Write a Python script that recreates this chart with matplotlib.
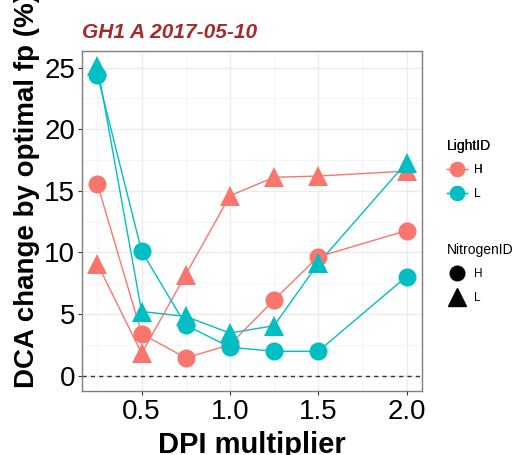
import matplotlib
matplotlib.use("Agg")
import matplotlib.pyplot as plt
from matplotlib.lines import Line2D
import numpy as np

plt.rcParams['font.family'] = ['Liberation Sans', 'DejaVu Sans']

dpi_mult = [0.25, 0.5, 0.75, 1.0, 1.25, 1.5, 2.0]
# LightID H, NitrogenID H (red circles)
hh = [15.55, 3.4, 1.43, 2.5, 6.15, 9.64, 11.77]
# LightID H, NitrogenID L (red triangles)
hl = [9.07, 1.8, 8.2, 14.6, 16.1, 16.2, 16.6]
# LightID L, NitrogenID H (cyan circles)
lh = [24.4, 10.1, 4.1, 2.3, 1.97, 1.97, 8.04]
# LightID L, NitrogenID L (cyan triangles)
ll = [25.1, 5.2, 4.8, 3.45, 4.05, 9.1, 17.3]

light_colors = {'H': '#F8766D', 'L': '#00BFC4'}
nitro_markers = {'H': 'o', 'L': '^'}

series = [('H', 'H', hh), ('H', 'L', hl), ('L', 'H', lh), ('L', 'L', ll)]

W, H = 518, 455
fig = plt.figure(figsize=(W / 100, H / 100), dpi=100)
ax = fig.add_axes([82 / W, 1 - 391 / H, (422 - 82) / W, (391 - 51) / H])

for light, nitro, vals in series:
    ax.plot(dpi_mult, vals, color=light_colors[light], lw=1.0, zorder=3)
for light, nitro, vals in series:
    ms = 13 if nitro == 'H' else 14.5
    ax.plot(dpi_mult, vals, linestyle='none', marker=nitro_markers[nitro],
            color=light_colors[light], markersize=ms, markeredgewidth=0, zorder=4)

ax.axhline(0, color='#333333', lw=1.0, ls=(0, (3, 3)), zorder=2)

allv = np.concatenate([hh, hl, lh, ll, [0]])
ymin, ymax = allv.min(), allv.max()
pad = 0.05 * (ymax - ymin)
ax.set_ylim(ymin - pad, ymax + pad)
xmin, xmax = min(dpi_mult), max(dpi_mult)
xpad = 0.05 * (xmax - xmin)
ax.set_xlim(xmin - xpad, xmax + xpad)

ax.set_xticks([0.5, 1.0, 1.5, 2.0])
ax.set_xticklabels(['0.5', '1.0', '1.5', '2.0'])
ax.set_yticks([0, 5, 10, 15, 20, 25])
ax.set_xticks([0.25, 0.75, 1.25, 1.75], minor=True)
ax.set_yticks([2.5, 7.5, 12.5, 17.5, 22.5], minor=True)
ax.grid(which='major', color='#EBEBEB', lw=1.0, zorder=0)
ax.grid(which='minor', color='#F3F3F3', lw=0.6, zorder=0)
ax.set_axisbelow(True)
ax.tick_params(which='major', labelsize=20, length=3, width=0.8, color='#333333', pad=2)
ax.tick_params(axis='x', which='major', pad=3)
ax.tick_params(which='minor', length=0)
for s in ax.spines.values():
    s.set_color('#7F7F7F')
    s.set_linewidth(1.0)

fig.text(252 / W, 1 - 453 / H, 'DPI multiplier', fontsize=21, fontweight='bold',
         ha='center', va='baseline')
fig.text(27 / W, 1 - 190 / H, 'DCA change by optimal fp (%)', rotation=90,
         fontsize=20, fontweight='bold', ha='center', va='center')
fig.text(82 / W, 1 - 33 / H, 'GH1 A 2017-05-10', fontsize=15, fontweight='bold',
         fontstyle='italic', color='#A52A2A', ha='left', va='center')

h1 = [Line2D([], [], color=light_colors[k], marker='o', markersize=10, lw=1) for k in ['H', 'L']]
leg1 = fig.legend(h1, ['H', 'L'], title='LightID', loc='upper left',
                  bbox_to_anchor=(436 / W, 1 - 128 / H), frameon=False,
                  fontsize=8.5, title_fontsize=10, alignment='left',
                  handlelength=1.7, handletextpad=0.6, labelspacing=1.0)
h2 = [Line2D([], [], color='black', marker=nitro_markers[k],
             markersize=(10.5 if k == 'H' else 13), lw=0) for k in ['H', 'L']]
leg2 = fig.legend(h2, ['H', 'L'], title='NitrogenID', loc='upper left',
                  bbox_to_anchor=(436 / W, 1 - 232 / H), frameon=False,
                  fontsize=8.5, title_fontsize=10, alignment='left',
                  handlelength=1.7, handletextpad=0.6, labelspacing=1.0)
fig.add_artist(leg1)

fig.savefig('out.png', dpi=100)
